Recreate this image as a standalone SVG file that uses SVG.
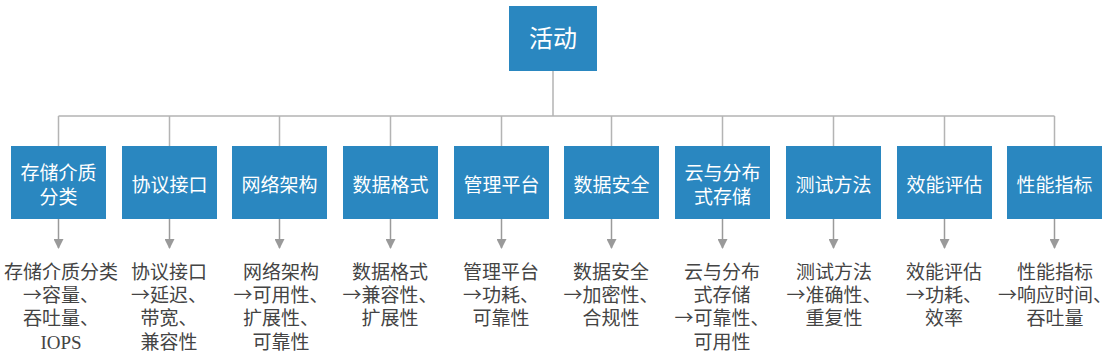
<svg xmlns="http://www.w3.org/2000/svg" width="1112" height="359" viewBox="0 0 1112 359">
<style>
.box{fill:#2a87c0}
.bt{font-family:"Noto Sans CJK SC","Noto Sans",sans-serif;font-size:19px;fill:#ffffff;text-anchor:middle}
.tt{font-family:"Noto Sans CJK SC","Noto Sans",sans-serif;font-size:24px;fill:#ffffff;text-anchor:middle}
.lt{font-family:"Noto Sans CJK SC","Noto Sans",sans-serif;font-size:19px;fill:#444444;text-anchor:middle}
.ser{font-family:"Liberation Serif",serif}
.ln{stroke:#b4b4b4;stroke-width:1.5;fill:none}
.ar{stroke:#9a9a9a;stroke-width:1.5;fill:none}
</style>
<defs>
<marker id="ah" viewBox="0 0 10 10" refX="9" refY="5" markerWidth="10" markerHeight="10" markerUnits="userSpaceOnUse" orient="auto">
<path d="M0,0 L10,5 L0,10 z" fill="#9a9a9a"/>
</marker>
</defs>
<g id="connectors">
<path class="ln" d="M553,71 V116 M58.5,116 H1054.5"/>
<path class="ln" d="M58.5,116 V146 M169.5,116 V146 M279.5,116 V146 M390.5,116 V146 M501.5,116 V146 M611.5,116 V146 M722.5,116 V146 M833.5,116 V146 M944.5,116 V146 M1054.5,116 V146"/>
<g marker-end="url(#ah)">
<path class="ar" d="M58.5,219 V248"/>
<path class="ar" d="M169.5,219 V248"/>
<path class="ar" d="M279.5,219 V248"/>
<path class="ar" d="M390.5,219 V248"/>
<path class="ar" d="M501.5,219 V248"/>
<path class="ar" d="M611.5,219 V248"/>
<path class="ar" d="M722.5,219 V248"/>
<path class="ar" d="M833.5,219 V248"/>
<path class="ar" d="M944.5,219 V248"/>
<path class="ar" d="M1054.5,219 V248"/>
</g>
</g>
<g id="root"><rect class="box" x="509" y="6" width="88" height="65"/><text class="tt" x="553" y="47">活动</text></g>
<g id="n1"><rect class="box" x="11" y="146" width="95" height="73"/><text class="bt" x="58.5" y="180">存储介质<tspan x="58.5" dy="24">分类</tspan></text></g>
<g id="n2"><rect class="box" x="122" y="146" width="95" height="73"/><text class="bt" x="169.5" y="192">协议接口</text></g>
<g id="n3"><rect class="box" x="232" y="146" width="95" height="73"/><text class="bt" x="279.5" y="192">网络架构</text></g>
<g id="n4"><rect class="box" x="343" y="146" width="95" height="73"/><text class="bt" x="390.5" y="192">数据格式</text></g>
<g id="n5"><rect class="box" x="454" y="146" width="95" height="73"/><text class="bt" x="501.5" y="192">管理平台</text></g>
<g id="n6"><rect class="box" x="564" y="146" width="95" height="73"/><text class="bt" x="611.5" y="192">数据安全</text></g>
<g id="n7"><rect class="box" x="675" y="146" width="95" height="73"/><text class="bt" x="722.5" y="180">云与分布<tspan x="722.5" dy="24">式存储</tspan></text></g>
<g id="n8"><rect class="box" x="786" y="146" width="95" height="73"/><text class="bt" x="833.5" y="192">测试方法</text></g>
<g id="n9"><rect class="box" x="897" y="146" width="95" height="73"/><text class="bt" x="944.5" y="192">效能评估</text></g>
<g id="n10"><rect class="box" x="1007" y="146" width="95" height="73"/><text class="bt" x="1054.5" y="192">性能指标</text></g>
<g id="labels">
<text class="lt" x="61" y="279">存储介质分类<tspan x="61" dy="23">→容量、</tspan><tspan x="61" dy="23">吞吐量、</tspan><tspan class="ser" x="61" dy="24">IOPS</tspan></text>
<text class="lt" x="169" y="279">协议接口<tspan x="169" dy="23">→延迟、</tspan><tspan x="169" dy="23">带宽、</tspan><tspan x="169" dy="24">兼容性</tspan></text>
<text class="lt" x="281" y="279">网络架构<tspan x="281" dy="23">→可用性、</tspan><tspan x="281" dy="23">扩展性、</tspan><tspan x="281" dy="24">可靠性</tspan></text>
<text class="lt" x="390" y="279">数据格式<tspan x="390" dy="23">→兼容性、</tspan><tspan x="390" dy="23">扩展性</tspan></text>
<text class="lt" x="501" y="279">管理平台<tspan x="501" dy="23">→功耗、</tspan><tspan x="501" dy="23">可靠性</tspan></text>
<text class="lt" x="611" y="279">数据安全<tspan x="611" dy="23">→加密性、</tspan><tspan x="611" dy="23">合规性</tspan></text>
<text class="lt" x="722" y="279">云与分布<tspan x="722" dy="23">式存储</tspan><tspan x="722" dy="23">→可靠性、</tspan><tspan x="722" dy="24">可用性</tspan></text>
<text class="lt" x="834" y="279">测试方法<tspan x="834" dy="23">→准确性、</tspan><tspan x="834" dy="23">重复性</tspan></text>
<text class="lt" x="944" y="279">效能评估<tspan x="944" dy="23">→功耗、</tspan><tspan x="944" dy="23">效率</tspan></text>
<text class="lt" x="1055" y="279">性能指标<tspan x="1055" dy="23">→响应时间、</tspan><tspan x="1055" dy="23">吞吐量</tspan></text>
</g>
</svg>
